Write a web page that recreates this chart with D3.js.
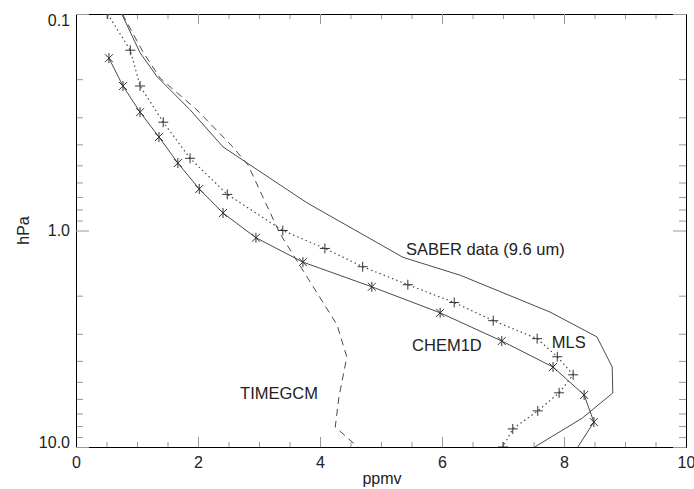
<!DOCTYPE html>
<html>
<head>
<meta charset="utf-8">
<script src="https://cdn.jsdelivr.net/npm/d3@7"></script>
<style>
  html, body { margin: 0; padding: 0; background: #fff; }
  svg { display: block; }
  text { font-family: "Liberation Sans", Arial, Helvetica, sans-serif; fill: #222; }
</style>
</head>
<body>
<svg id="chart" width="694" height="489"></svg>
<script>
// Ozone mixing ratio profiles (ppmv) versus pressure (hPa)

// SABER retrieval (9.6 um channel), solid line
const saberPressure = [0.100, 0.151, 0.195, 0.277, 0.411, 0.526, 0.746, 1.33, 1.61, 2.38, 3.10, 4.27, 5.63, 7.35, 10.0];
const saberValues   = [0.75, 1.05, 1.33, 1.87, 2.41, 2.98, 3.79, 5.36, 6.30, 7.77, 8.54, 8.79, 8.80, 8.30, 7.52];

// MLS on its standard pressure grid, dotted line with plus markers
const mlsPressure = [0.100, 0.147, 0.215, 0.316, 0.464, 0.681, 1.00, 1.21, 1.47, 1.78, 2.15, 2.61, 3.16, 3.83, 4.64, 5.62, 6.81, 8.25, 10.0];
const mlsValues   = [0.52, 0.89, 1.05, 1.43, 1.87, 2.48, 3.39, 4.08, 4.70, 5.44, 6.20, 6.84, 7.56, 7.89, 8.15, 7.92, 7.57, 7.16, 7.00];

// CHEM1D model, solid line with asterisks
const chemPressure = [0.160, 0.215, 0.284, 0.370, 0.488, 0.643, 0.830, 1.08, 1.40, 1.82, 2.40, 3.24, 4.27, 5.75, 7.67, 10.6];
const chemValues   = [0.54, 0.77, 1.05, 1.36, 1.67, 2.02, 2.41, 2.95, 3.72, 4.85, 5.97, 6.98, 7.82, 8.33, 8.49, 8.17];

// TIMEGCM model, dashed line
const timegcmPressure = [0.100, 0.150, 0.198, 0.277, 0.411, 0.498, 1.03, 2.73, 3.84, 5.88, 8.08, 10.0];
const timegcmValues   = [0.76, 1.10, 1.38, 1.98, 2.57, 2.82, 3.34, 4.28, 4.44, 4.31, 4.25, 4.62];

// Axis ticks
const xMajorTicks = [0, 2, 4, 6, 8, 10];
const xMinorTicks = [0.5, 1, 1.5, 2.5, 3, 3.5, 4.5, 5, 5.5, 6.5, 7, 7.5, 8.5, 9, 9.5];
const yMajorTicks = [0.1, 1.0, 10.0];
const yMinorTicks = [0.2, 0.3, 0.4, 0.5, 0.6, 0.7, 0.8, 0.9, 2, 3, 4, 5, 6, 7, 8, 9];

// Curve annotations: [text, ppmv at left edge, pressure at text middle]
const curveLabels = [
  ["SABER data (9.6 um)", 5.41, 1.22],
  ["CHEM1D", 5.51, 3.40],
  ["MLS", 7.80, 3.29],
  ["TIMEGCM", 2.69, 5.63]
];

const svg = d3.select("#chart");
const margin = { left: 76, right: 8, top: 14, bottom: 42 };
const W = 694, H = 489;

const x = d3.scaleLinear().domain([0, 10]).range([margin.left, W - margin.right]);
const y = d3.scaleLog().domain([0.1, 10]).range([margin.top, H - margin.bottom]);

const axisColor = "#999";
const lineColor = "#4a4a4a";

svg.append("defs").append("clipPath").attr("id", "plot-clip")
  .append("rect")
  .attr("x", x(0)).attr("y", y(0.1))
  .attr("width", x(10) - x(0)).attr("height", y(10) - y(0.1));

function styleAxis(g) {
  g.select(".domain").attr("stroke", axisColor).attr("stroke-width", 1);
  g.selectAll(".tick line").attr("stroke", axisColor).attr("stroke-width", 1);
  g.selectAll(".tick text").attr("font-size", 16).attr("fill", "#222")
    .attr("font-family", "'Liberation Sans', Arial, Helvetica, sans-serif");
}

// Bottom axis
const axisB = svg.append("g").attr("transform", `translate(0,${y(10)})`);
axisB.call(d3.axisBottom(x).tickValues(xMinorTicks).tickSizeInner(-5).tickSizeOuter(0).tickFormat(""));
axisB.append("g").call(d3.axisBottom(x).tickValues(xMajorTicks).tickSizeInner(-10).tickSizeOuter(0).tickPadding(10).tickFormat(d3.format("d")));
axisB.call(styleAxis);

// Top axis
const axisT = svg.append("g").attr("transform", `translate(0,${y(0.1)})`);
axisT.call(d3.axisTop(x).tickValues(xMinorTicks).tickSizeInner(-5).tickSizeOuter(0).tickFormat(""));
axisT.append("g").call(d3.axisTop(x).tickValues(xMajorTicks).tickSizeInner(-10).tickSizeOuter(0).tickFormat(""));
axisT.call(styleAxis);

// Left axis
const axisL = svg.append("g").attr("transform", `translate(${x(0)},0)`);
axisL.call(d3.axisLeft(y).tickValues(yMinorTicks).tickSizeInner(-7).tickSizeOuter(0).tickFormat(""));
const axisLMajor = axisL.append("g");
axisLMajor.call(d3.axisLeft(y).tickValues(yMajorTicks).tickSizeInner(-13).tickSizeOuter(0).tickPadding(6).tickFormat(d3.format(".1f")));
axisL.call(styleAxis);
// keep the end labels within the frame height
axisLMajor.selectAll(".tick text")
  .attr("y", d => {
    const py = y(d);
    const c = Math.min(Math.max(py, y(0.1) + 6), y(10) - 5);
    return c - py;
  });

// Right axis
const axisR = svg.append("g").attr("transform", `translate(${x(10)},0)`);
axisR.call(d3.axisRight(y).tickValues(yMinorTicks).tickSizeInner(-7).tickSizeOuter(0).tickFormat(""));
axisR.append("g").call(d3.axisRight(y).tickValues(yMajorTicks).tickSizeInner(-13).tickSizeOuter(0).tickFormat(""));
axisR.call(styleAxis);

// Axis titles
svg.append("text")
  .attr("x", 382)
  .attr("y", 484)
  .attr("text-anchor", "middle")
  .attr("font-size", 16)
  .text("ppmv");

svg.append("text")
  .attr("transform", `translate(23,${(y(0.1) + y(10)) / 2}) rotate(-90)`)
  .attr("text-anchor", "middle")
  .attr("dy", "0.35em")
  .attr("font-size", 16)
  .text("hPa");

// Profiles
const plot = svg.append("g").attr("clip-path", "url(#plot-clip)");
const line = d3.line().x(d => x(d[0])).y(d => y(d[1]));
const zipProfile = (vals, pres) => vals.map((v, i) => [v, pres[i]]);

const saber = zipProfile(saberValues, saberPressure);
const mls = zipProfile(mlsValues, mlsPressure);
const chem = zipProfile(chemValues, chemPressure);
const timegcm = zipProfile(timegcmValues, timegcmPressure);

plot.append("path").datum(saber).attr("d", line)
  .attr("fill", "none").attr("stroke", lineColor).attr("stroke-width", 1);

plot.append("path").datum(timegcm).attr("d", line)
  .attr("fill", "none").attr("stroke", lineColor).attr("stroke-width", 1)
  .attr("stroke-dasharray", "7,5");

plot.append("path").datum(mls).attr("d", line)
  .attr("fill", "none").attr("stroke", lineColor).attr("stroke-width", 1.2)
  .attr("stroke-dasharray", "1.5,3");

plot.append("path").datum(chem).attr("d", line)
  .attr("fill", "none").attr("stroke", lineColor).attr("stroke-width", 1);

// Plus markers on MLS
const plusSize = 5;
plot.selectAll(".mls-mark").data(mls).join("path")
  .attr("class", "mls-mark")
  .attr("transform", d => `translate(${x(d[0])},${y(d[1])})`)
  .attr("d", `M${-plusSize},0H${plusSize}M0,${-plusSize}V${plusSize}`)
  .attr("stroke", "#333").attr("stroke-width", 1).attr("fill", "none");

// Asterisk markers on CHEM1D
const a = 5, b = 4;
plot.selectAll(".chem-mark").data(chem).join("path")
  .attr("class", "chem-mark")
  .attr("transform", d => `translate(${x(d[0])},${y(d[1])})`)
  .attr("d", `M${-b},${-b}L${b},${b}M${-b},${b}L${b},${-b}M0,${-a}V${a}`)
  .attr("stroke", "#333").attr("stroke-width", 1).attr("fill", "none");

// Curve labels
svg.selectAll(".curve-label").data(curveLabels).join("text")
  .attr("class", "curve-label")
  .attr("x", d => x(d[1]))
  .attr("y", d => y(d[2]))
  .attr("dy", "0.35em")
  .attr("font-size", 16.5)
  .text(d => d[0]);
</script>
</body>
</html>
